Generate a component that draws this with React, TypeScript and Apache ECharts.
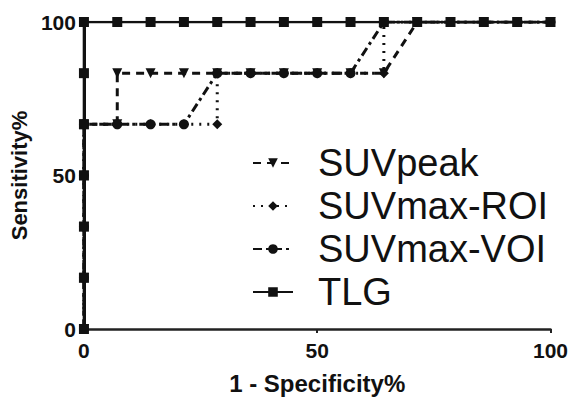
import React, { useEffect, useRef } from "react";
import * as echarts from "echarts";

const S = 100 / 14;
const T = 100 / 6;

const peakX = [0, 0, 0, 0, 0, S, S, 2 * S, 3 * S, 4 * S, 5 * S, 6 * S, 7 * S, 8 * S, 9 * S, 10 * S, 100];
const peakY = [0, T, 2 * T, 3 * T, 4 * T, 4 * T, 5 * T, 5 * T, 5 * T, 5 * T, 5 * T, 5 * T, 5 * T, 5 * T, 5 * T, 100, 100];

const roiX = [0, 0, 0, 0, 0, S, 2 * S, 3 * S, 4 * S, 4 * S, 5 * S, 6 * S, 7 * S, 8 * S, 9 * S, 9 * S, 100];
const roiY = [0, T, 2 * T, 3 * T, 4 * T, 4 * T, 4 * T, 4 * T, 4 * T, 5 * T, 5 * T, 5 * T, 5 * T, 5 * T, 5 * T, 100, 100];

const voiX = [0, 0, 0, 0, 0, S, 2 * S, 3 * S, 4 * S, 5 * S, 6 * S, 7 * S, 8 * S, 9 * S, 100];
const voiY = [0, T, 2 * T, 3 * T, 4 * T, 4 * T, 4 * T, 4 * T, 5 * T, 5 * T, 5 * T, 5 * T, 5 * T, 100, 100];

const tlgX = [0, 0, 0, 0, 0, 0, 0, S, 2 * S, 3 * S, 4 * S, 5 * S, 6 * S, 7 * S, 8 * S, 9 * S, 10 * S, 11 * S, 12 * S, 13 * S, 100];
const tlgY = [0, T, 2 * T, 3 * T, 4 * T, 5 * T, 100, 100, 100, 100, 100, 100, 100, 100, 100, 100, 100, 100, 100, 100, 100];

const seriesNames = ["SUVpeak", "SUVmax-ROI", "SUVmax-VOI", "TLG"];
const xTicks = [0, 50, 100];

const pairs = (xs: number[], ys: number[]) => xs.map((x, i) => [x, ys[i]]);

export default function App() {
  const ref = useRef<HTMLDivElement>(null);
  useEffect(() => {
    if (!ref.current) return;
    const chart = echarts.init(ref.current, null, { renderer: "svg" });
    const font = "Liberation Sans, Arial, sans-serif";
    const axisLabel = { color: "#111", fontWeight: "bold" as const, fontSize: 21, fontFamily: font };
    chart.setOption({
      animation: false,
      backgroundColor: "#fff",
      grid: { left: 83, right: 18, top: 22, bottom: 66 },
      legend: {
        orient: "vertical",
        left: 247,
        top: 139,
        itemWidth: 40,
        itemHeight: 12,
        itemGap: 5,
        textStyle: { fontSize: 38, lineHeight: 37, color: "#111", fontFamily: font, padding: [0, 0, 0, 20] },
        data: seriesNames,
      },
      xAxis: {
        type: "value",
        min: 0,
        max: 100,
        interval: 50,
        name: "1 - Specificity%",
        nameLocation: "middle",
        nameGap: 42,
        nameTextStyle: { color: "#111", fontWeight: "bold", fontSize: 24, fontFamily: font },
        axisLine: { lineStyle: { color: "#222", width: 2.5 } },
        axisTick: { show: true, length: 4, lineStyle: { color: "#222", width: 2 } },
        axisLabel: { ...axisLabel, margin: 11, formatter: (v: number) => (xTicks.includes(v) ? String(v) : "") },
        splitLine: { show: false },
      },
      yAxis: {
        type: "value",
        min: 0,
        max: 100,
        interval: 50,
        name: "Sensitivity%",
        nameLocation: "middle",
        nameGap: 48,
        nameTextStyle: { color: "#111", fontWeight: "bold", fontSize: 22, fontFamily: font },
        axisLine: { lineStyle: { color: "#111", width: 3 } },
        axisTick: { show: true, length: 4, lineStyle: { color: "#111", width: 2 } },
        axisLabel: { ...axisLabel, margin: 8 },
        splitLine: { show: false },
      },
      series: [
        {
          name: "SUVpeak",
          type: "line",
          data: pairs(peakX, peakY),
          symbol: "triangle",
          symbolRotate: 180,
          symbolSize: 10,
          lineStyle: { color: "#111", width: 3, type: [8, 6] },
          itemStyle: { color: "#111" },
        },
        {
          name: "SUVmax-ROI",
          type: "line",
          data: pairs(roiX, roiY),
          symbol: "diamond",
          symbolSize: 10,
          lineStyle: { color: "#111", width: 3, type: [2, 6] },
          itemStyle: { color: "#111" },
        },
        {
          name: "SUVmax-VOI",
          type: "line",
          data: pairs(voiX, voiY),
          symbol: "circle",
          symbolSize: 10,
          lineStyle: { color: "#111", width: 3, type: [9, 4, 3, 4] },
          itemStyle: { color: "#111" },
        },
        {
          name: "TLG",
          type: "line",
          data: pairs(tlgX, tlgY),
          symbol: "rect",
          symbolSize: 10,
          lineStyle: { color: "#111", width: 2.5 },
          itemStyle: { color: "#111" },
        },
      ],
    });
    return () => chart.dispose();
  }, []);
  return <div ref={ref} style={{ width: 571, height: 400, position: "absolute", left: 0, top: 0 }} />;
}
